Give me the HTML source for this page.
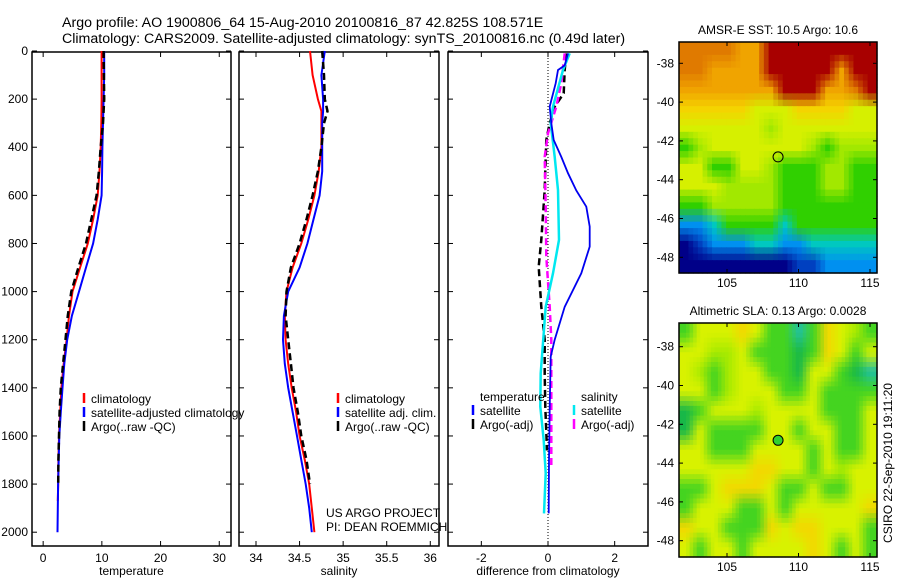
<!DOCTYPE html>
<html><head><meta charset="utf-8"><style>
body{margin:0;background:#fff;width:900px;height:580px;overflow:hidden}
svg{display:block}
text{font-family:"Liberation Sans",sans-serif;font-size:12px;fill:#000}
text.ttl{font-size:14.2px}
</style></head><body>
<svg id="fig" width="900" height="580" viewBox="0 0 900 580">
<text class="ttl" x="62" y="27">Argo profile: AO 1900806_64 15-Aug-2010 20100816_87 42.825S 108.571E</text>
<text class="ttl" x="62" y="43">Climatology: CARS2009. Satellite-adjusted climatology: synTS_20100816.nc (0.49d later)</text>
<g id="g"></g>
</svg>
<script>
// ---- data ----
const tDepth = [0,100,200,300,400,500,600,700,800,900,1000,1100,1200,1300,1400,1500,1600,1700,1800,1870];
const tClim  = [9.95,9.95,9.95,9.9,9.8,9.6,9.3,8.5,7.6,6.3,5.0,4.4,4.0,3.5,3.1,2.9,2.7,2.6,2.56,2.5];
const tArgo  = [10.3,10.35,10.4,10.2,9.8,9.5,9.1,8.2,7.3,6.0,4.8,4.2,3.8,3.4,3.0,2.8,2.7,2.6,2.56,2.5];
const tSatDepth = [0,100,200,300,400,500,600,700,800,900,1000,1100,1200,1300,1400,1500,1600,1700,1800,1900,2000];
const tSat   = [10.4,10.4,10.3,10.2,10.1,10.05,9.95,9.3,8.5,7.3,6.1,4.9,4.1,3.6,3.3,3.0,2.75,2.65,2.55,2.5,2.45];
const sDepth = [0,100,200,250,300,400,500,600,700,800,900,1000,1100,1200,1300,1400,1500,1600,1700,1800,1900,2000];
const sClim  = [34.62,34.65,34.71,34.75,34.75,34.75,34.72,34.67,34.6,34.52,34.42,34.35,34.33,34.34,34.37,34.41,34.46,34.5,34.56,34.61,34.64,34.67];
const sArgo  = [34.76,34.78,34.79,34.82,34.78,34.75,34.71,34.65,34.58,34.5,34.4,34.35,34.34,34.37,34.4,34.43,34.48,34.52,34.58,34.62,null,null];
const sSat   = [34.79,34.75,34.77,34.77,34.76,34.76,34.76,34.73,34.66,34.59,34.5,34.37,34.32,34.31,34.33,34.37,34.42,34.47,34.52,34.57,34.61,34.64];
const dTSatDepth = [10,60,79,134,231,300,370,440,508,580,647,730,813,924,1063,1200,1270,1480,1700,1922];
const dTSat  = [0.6,0.5,0.3,0.23,0.05,0.1,0.17,0.4,0.6,0.85,1.15,1.25,1.25,1.0,0.5,0.2,0.08,0.05,0.03,0.02];
const dSSatDepth = [10,79,231,300,440,578,785,924,1063,1340,1478,1617,1755,1922];
const dSSat  = [0.65,0.45,0.15,0.08,0.2,0.3,0.33,0.15,-0.07,-0.22,-0.23,-0.13,-0.07,-0.12];
const dTArgoDepth = [10,79,176,231,300,370,578,785,896,1063,1200,1340,1478,1660];
const dTArgo = [0.55,0.5,0.47,0.2,0.05,-0.05,-0.1,-0.2,-0.28,-0.2,-0.1,-0.1,-0.08,-0.03];
const dSArgoDepth = [10,134,231,342,440,647,855,1063,1200,1478,1728];
const dSArgo = [0.5,0.4,0.25,0,-0.1,-0.07,-0.05,0.05,0.1,0.1,0.1];
const depthTicks = [0,200,400,600,800,1000,1200,1400,1600,1800,2000];
const tTicks = [0,10,20,30];
const sTicks = [34,34.5,35,35.5,36];
const sTickLabels = ["34","34.5","35","35.5","36"];
const dTicks = [-2,0,2];
const lonTicks = [105,110,115];
const latTicks = [-38,-40,-42,-44,-46,-48];
const floatLon = 108.571, floatLat = -42.825;
const sstGrid = [
"OOOOooRRRRRRRR","OOooooRRRRRoRR","oooooooRRRooOR","YYYYYyyyYYYYyy",
"yyyyyyLyyyyyyy","GLyyyyyyyLGLLL","yyGGyyLGGGLLGG","yyyLLLLGGGLLGG",
"GGLLLLLGGGGGGG","BBCGGGGCGGGGGG","NbBBBCCBBCCCCC","NNNNNNNNbbBBBB"];
const slaGrid = [
"GyyyOyGGCGOyLG","yyLLyGGGgGOyGy","yLGLyyGGgyyGgC","yyGLyyyGGyGGGG",
"gGyyyLyyyyGGGy","gyGGGGyyGyyGGy","yyGGGyyyyGyGGy","yyyyyOOyyGyLyy",
"GGyOOOyGGyGGyy","GyyyGGyGyyyyyO","OyyGGGOyOOyyyG","yGyyGyyyyOyGyG"];
const colors = {R:"#a80000",O:"#e07a00",o:"#f0a400",Y:"#f4d400",y:"#d6f000",L:"#a2e800",G:"#30d000",g:"#10b840",C:"#00c8c0",B:"#0090f0",b:"#0040c0",N:"#000088"};
const slaColors = {O:"#f2d800",y:"#d8f200",L:"#a8ea00",G:"#44d420",g:"#18b848",C:"#20c0a0"};

const NS="http://www.w3.org/2000/svg";
const G=document.getElementById('g');
function el(tag,attrs,parent){const e=document.createElementNS(NS,tag);for(const k in attrs)e.setAttribute(k,attrs[k]);(parent||G).appendChild(e);return e;}
function txt(s,x,y,anchor,parent){const e=el('text',{x:x,y:y,'text-anchor':anchor||'start'},parent);e.textContent=s;return e;}

const yTop=52,yBot=546;
function yD(p){return 51+0.2406*p;}
const panels=[
 {name:'temperature',x0:32,x1:231,v0:-1.9,v1:32,ticks:tTicks,labels:tTicks.map(String),label:'temperature'},
 {name:'salinity',x0:239,x1:439,v0:33.805,v1:36.1,ticks:sTicks,labels:sTickLabels,label:'salinity'},
 {name:'difference',x0:448,x1:648,v0:-3,v1:3,ticks:dTicks,labels:dTicks.map(String),label:'difference from climatology'}];
function xf(P){return v=>P.x0+(v-P.v0)/(P.v1-P.v0)*(P.x1-P.x0);}

panels.forEach((P,i)=>{
 const g=el('g',{});
 
 
 const r=el('rect',{x:P.x0,y:yTop,width:P.x1-P.x0,height:yBot-yTop,fill:'none',stroke:'#000','stroke-width':1.5},g);
 
 
 const X=xf(P);
 P.ticks.forEach((t,j)=>{const x=X(t);
  el('line',{x1:x,x2:x,y1:yBot,y2:yBot-5,stroke:'#000'},g);
  el('line',{x1:x,x2:x,y1:yTop,y2:yTop+5,stroke:'#000'},g);
  const l=txt(P.labels[j],x,562,'middle',g);
  
  });
 depthTicks.forEach(d=>{const y=yD(d);
  el('line',{x1:P.x0,x2:P.x0+5,y1:y,y2:y,stroke:'#000'},g);
  el('line',{x1:P.x1,x2:P.x1-5,y1:y,y2:y,stroke:'#000'},g);
  if(i==0){const l=txt(String(d),28,y+4,'end',g);
   
   }});
 const t=txt(P.label,(P.x0+P.x1)/2,575,'middle',g);
 
 
 P.X=X;P.g=g;
});

function line(P,depths,vals,color,dash,name,w){
 const X=P.X;const pts=[];
 depths.forEach((d,k)=>{if(vals[k]!==null&&vals[k]!==undefined)pts.push(X(vals[k]).toFixed(1)+','+yD(d).toFixed(1));});
 const a={points:pts.join(' '),fill:'none',stroke:color,'stroke-width':w||2};
 if(dash)a['stroke-dasharray']=dash;
 const p=el('polyline',a,P.g);
 
 
}
const [P1,P2,P3]=panels;
line(P1,tDepth,tClim,'#f00',null,'temp-climatology-line');
line(P1,tSatDepth,tSat,'#00f',null,'temp-satellite-line');
line(P1,tDepth.slice(0,19),tArgo.slice(0,19),'#000','7 4','temp-argo-line',2.5);
line(P2,sDepth,sClim,'#f00',null,'sal-climatology-line');
line(P2,sDepth,sSat,'#00f',null,'sal-satellite-line');
line(P2,sDepth,sArgo,'#000','7 4','sal-argo-line',2.5);
const zx=P3.X(0);
el('line',{x1:zx,x2:zx,y1:yTop,y2:yBot,stroke:'#000','stroke-dasharray':'1 2'},P3.g);
line(P3,dTArgoDepth,dTArgo,'#000','7 4','diff-temp-argo-line',2.5);
line(P3,dSArgoDepth,dSArgo,'#f0f','7 4','diff-sal-argo-line',2.5);
line(P3,dSSatDepth,dSSat,'#00e8f0',null,'diff-sal-satellite-line',2.5);
line(P3,dTSatDepth,dTSat,'#0000f0',null,'diff-temp-satellite-line',1.8);

function legend(x,y,items,name){
 const g=el('g',{});
 
 
 items.forEach((it,k)=>{const yy=y+k*14;
  if(it[1])el('line',{x1:x,x2:x,y1:yy-10,y2:yy,stroke:it[1],'stroke-width':2.5},g);
  txt(it[0],x+7,yy,'start',g);});
}
legend(84,403,[['climatology','#f00'],['satellite-adjusted climatology','#00f'],['Argo(..raw -QC)','#000']],'temperature-legend');
legend(338,403,[['climatology','#f00'],['satellite adj. clim.','#00f'],['Argo(..raw -QC)','#000']],'salinity-legend');
legend(473,401,[['temperature',null],['satellite','#00f'],['Argo(-adj)','#000']],'diff-temperature-legend');
legend(574,401,[['salinity',null],['satellite','#00e8f0'],['Argo(-adj)','#f0f']],'diff-salinity-legend');
const us=txt('US ARGO PROJECT',326,517);
const pi=txt('PI: DEAN ROEMMICH',326,531);

// ---- maps ----
function hex(c){return [parseInt(c.slice(1,3),16),parseInt(c.slice(3,5),16),parseInt(c.slice(5,7),16)];}
function map(y0,y1,latRef,grid,cmap,title,name,filled,up){
 const x0=679,x1=877;
 const g=el('g',{});
 
 
 const LX=lon=>727+(lon-105)*14.3;
 const LY=lat=>latRef+(-38-lat)*19.4;
 const rows=grid.length,cols=grid[0].length;
 const C=(r,c)=>hex(cmap[grid[Math.max(0,Math.min(rows-1,r))][Math.max(0,Math.min(cols-1,c))]]);
 const R=rows*up,K=cols*up,cw=(x1-x0)/K,ch=(y1-y0)/R;
 for(let r=0;r<R;r++)for(let c=0;c<K;c++){
  let col;
  if(up==1)col=C(r,c);else{
   const fr=(r+0.5)/up-0.5,fc=(c+0.5)/up-0.5,r0=Math.floor(fr),c0=Math.floor(fc),a=fr-r0,b=fc-c0;
   const p00=C(r0,c0),p01=C(r0,c0+1),p10=C(r0+1,c0),p11=C(r0+1,c0+1);
   col=[0,1,2].map(k=>Math.round(p00[k]*(1-a)*(1-b)+p01[k]*(1-a)*b+p10[k]*a*(1-b)+p11[k]*a*b));}
  el('rect',{x:(x0+c*cw).toFixed(2),y:(y0+r*ch).toFixed(2),width:(cw+0.6).toFixed(2),height:(ch+0.6).toFixed(2),fill:'rgb('+col.join(',')+')'},g);}
 el('rect',{x:x0,y:y0,width:x1-x0,height:y1-y0,fill:'none',stroke:'#000','stroke-width':1.5},g);
 lonTicks.forEach(l=>{const x=LX(l);el('line',{x1:x,x2:x,y1:y0,y2:y0+4,stroke:'#000'},g);el('line',{x1:x,x2:x,y1:y1,y2:y1-4,stroke:'#000'},g);
  txt(String(l),x,y1+14,'middle',g);});
 latTicks.forEach(l=>{const y=LY(l);el('line',{x1:x0,x2:x0+4,y1:y,y2:y,stroke:'#000'},g);el('line',{x1:x1,x2:x1-4,y1:y,y2:y,stroke:'#000'},g);
  txt(String(l),674,y+4,'end',g);});
 const m=el('circle',{cx:LX(floatLon),cy:LY(floatLat),r:5,fill:filled?'#30d030':'none',stroke:'#000','stroke-width':1},g);
 
 
 const t=txt(title,778,y0-8,'middle',g);
 
 
}
map(42,273,63.3,sstGrid,colors,'AMSR-E SST: 10.5 Argo: 10.6','sst-map',false,3);
map(323,557,346.7,slaGrid,slaColors,'Altimetric SLA: 0.13 Argo: 0.0028','sla-map',true,4);
const c=txt('CSIRO 22-Sep-2010 19:11:20',0,0,'middle');
c.setAttribute('transform','translate(892,463) rotate(-90)');


</script>
</body></html>
